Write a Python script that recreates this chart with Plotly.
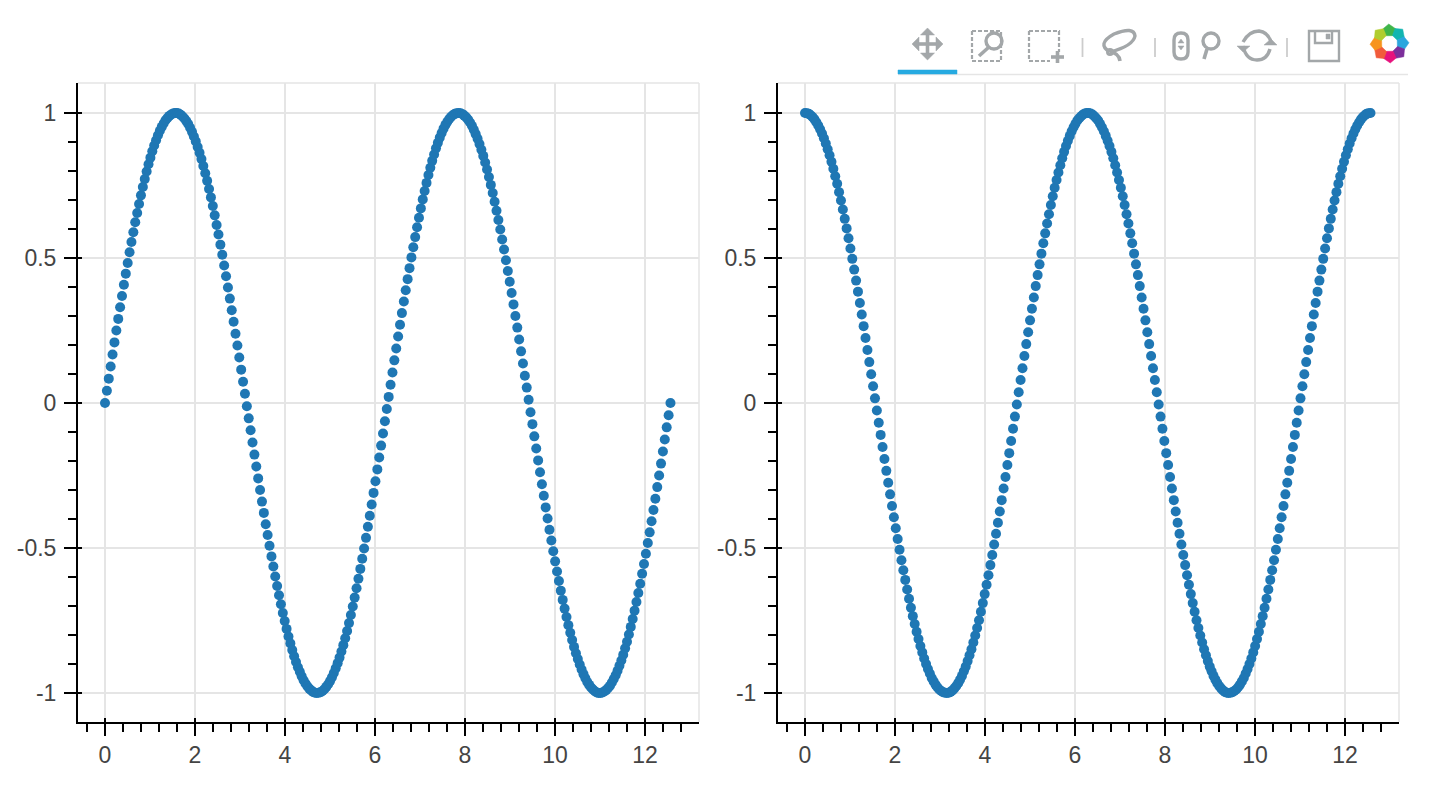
import math
import plotly.graph_objects as go

x_values = [
0,.042,.084,.126,.168,.210,.252,.294,.336,.378,
.420,.462,.504,.546,.588,.630,.672,.715,.757,.799,
.841,.883,.925,.967,1.009,1.051,1.093,1.135,1.177,1.219,
1.261,1.303,1.345,1.387,1.429,1.471,1.513,1.555,1.597,1.639,
1.681,1.723,1.765,1.807,1.849,1.891,1.933,1.975,2.017,2.059,
2.101,2.143,2.185,2.228,2.270,2.312,2.354,2.396,2.438,2.480,
2.522,2.564,2.606,2.648,2.690,2.732,2.774,2.816,2.858,2.900,
2.942,2.984,3.026,3.068,3.110,3.152,3.194,3.236,3.278,3.320,
3.362,3.404,3.446,3.488,3.530,3.572,3.614,3.656,3.699,3.741,
3.783,3.825,3.867,3.909,3.951,3.993,4.035,4.077,4.119,4.161,
4.203,4.245,4.287,4.329,4.371,4.413,4.455,4.497,4.539,4.581,
4.623,4.665,4.707,4.749,4.791,4.833,4.875,4.917,4.959,5.001,
5.043,5.085,5.127,5.170,5.212,5.254,5.296,5.338,5.380,5.422,
5.464,5.506,5.548,5.590,5.632,5.674,5.716,5.758,5.800,5.842,
5.884,5.926,5.968,6.010,6.052,6.094,6.136,6.178,6.220,6.262,
6.304,6.346,6.388,6.430,6.472,6.514,6.556,6.598,6.641,6.683,
6.725,6.767,6.809,6.851,6.893,6.935,6.977,7.019,7.061,7.103,
7.145,7.187,7.229,7.271,7.313,7.355,7.397,7.439,7.481,7.523,
7.565,7.607,7.649,7.691,7.733,7.775,7.817,7.859,7.901,7.943,
7.985,8.027,8.069,8.112,8.154,8.196,8.238,8.280,8.322,8.364,
8.406,8.448,8.490,8.532,8.574,8.616,8.658,8.700,8.742,8.784,
8.826,8.868,8.910,8.952,8.994,9.036,9.078,9.120,9.162,9.204,
9.246,9.288,9.330,9.372,9.414,9.456,9.498,9.540,9.583,9.625,
9.667,9.709,9.751,9.793,9.835,9.877,9.919,9.961,10.003,10.045,
10.087,10.129,10.171,10.213,10.255,10.297,10.339,10.381,10.423,10.465,
10.507,10.549,10.591,10.633,10.675,10.717,10.759,10.801,10.843,10.885,
10.927,10.969,11.011,11.054,11.096,11.138,11.180,11.222,11.264,11.306,
11.348,11.390,11.432,11.474,11.516,11.558,11.600,11.642,11.684,11.726,
11.768,11.810,11.852,11.894,11.936,11.978,12.020,12.062,12.104,12.146,
12.188,12.230,12.272,12.314,12.356,12.398,12.440,12.482,12.525,12.566,
]

left_values = [
0,.042,.084,.126,.167,.209,.250,.290,.330,.369,.408,.446,.483,.520,.555,.589,.623,.655,.686,.716,.745,.772,.798,.823,.846,.868,.888,.906,.923,.939,.952,.964,.975,.983,.990,.995,.998,1.000,
1.000,.998,.994,.988,.981,.972,.962,.949,.935,.919,.902,.883,.863,.841,.817,.792,.766,.738,.709,.679,.647,.614,.581,.546,.511,.474,.437,.398,.360,.320,.280,.239,.198,.157,.115,.073,.032,
-.011,-.053,-.094,-.136,-.178,-.219,-.260,-.300,-.340,-.379,-.418,-.455,-.492,-.529,-.564,-.598,-.631,-.663,-.694,-.724,-.752,-.779,-.805,-.829,-.852,-.873,-.893,-.911,-.927,-.942,-.956,-.967,-.977,-.985,-.991,-.996,-.999,-1.000,
-.999,-.997,-.993,-.987,-.979,-.970,-.959,-.946,-.931,-.915,-.897,-.878,-.857,-.835,-.811,-.786,-.759,-.731,-.702,-.671,-.639,-.606,-.572,-.537,-.502,-.465,-.427,-.389,-.350,-.310,-.270,-.229,-.188,-.147,-.105,-.063,-.021,
.021,.063,.105,.147,.188,.229,.270,.310,.350,.389,.427,.465,.502,.537,.572,.606,.639,.671,.702,.731,.759,.786,.811,.835,.857,.878,.897,.915,.931,.946,.959,.970,.979,.987,.993,.997,.999,
1.000,.999,.996,.991,.985,.977,.967,.956,.942,.927,.911,.893,.873,.852,.829,.805,.779,.752,.724,.694,.663,.631,.598,.564,.529,.492,.455,.418,.379,.340,.300,.260,.219,.178,.136,.094,.053,.011,
-.032,-.073,-.115,-.157,-.198,-.239,-.280,-.320,-.360,-.398,-.437,-.474,-.511,-.546,-.581,-.614,-.647,-.679,-.709,-.738,-.766,-.792,-.817,-.841,-.863,-.883,-.902,-.919,-.935,-.949,-.962,-.972,-.981,-.988,-.994,-.998,-1.000,
-1.000,-.998,-.995,-.990,-.983,-.975,-.964,-.952,-.939,-.923,-.906,-.888,-.868,-.846,-.823,-.798,-.772,-.745,-.716,-.686,-.655,-.623,-.589,-.555,-.520,-.483,-.446,-.408,-.369,-.330,-.290,-.250,-.209,-.167,-.126,-.084,-.042,0,
]

right_values = [
1.000,.999,.997,.992,.986,.978,.968,.957,.944,.929,.913,.895,.875,.854,.832,.808,.782,.756,.727,.698,.667,.635,.602,.568,.533,.497,.460,.422,.384,.345,.305,.265,.224,.183,.141,.099,.058,.016,
-.026,-.068,-.110,-.152,-.193,-.234,-.275,-.315,-.355,-.394,-.432,-.469,-.506,-.542,-.577,-.610,-.643,-.675,-.706,-.735,-.762,-.789,-.814,-.838,-.860,-.881,-.900,-.917,-.933,-.948,-.960,-.971,-.980,-.988,-.993,-.997,-.999,
-1.000,-.999,-.996,-.991,-.984,-.976,-.966,-.954,-.941,-.925,-.909,-.890,-.870,-.849,-.826,-.802,-.776,-.749,-.720,-.690,-.659,-.627,-.594,-.559,-.524,-.488,-.451,-.413,-.374,-.335,-.295,-.255,-.214,-.173,-.131,-.089,-.047,-.005,
.037,.079,.120,.162,.203,.244,.285,.325,.364,.403,.441,.478,.515,.551,.585,.619,.651,.683,.713,.742,.769,.795,.820,.844,.866,.886,.904,.921,.937,.951,.963,.974,.982,.989,.995,.998,1.000,
1.000,.998,.995,.989,.982,.974,.963,.951,.937,.921,.904,.886,.866,.844,.820,.795,.769,.742,.713,.683,.651,.619,.585,.551,.515,.478,.441,.403,.364,.325,.285,.244,.203,.162,.120,.079,.037,
-.005,-.047,-.089,-.131,-.173,-.214,-.255,-.295,-.335,-.374,-.413,-.451,-.488,-.524,-.559,-.594,-.627,-.659,-.690,-.720,-.749,-.776,-.802,-.826,-.849,-.870,-.890,-.909,-.925,-.941,-.954,-.966,-.976,-.984,-.991,-.996,-.999,-1.000,
-.999,-.997,-.993,-.988,-.980,-.971,-.960,-.948,-.933,-.917,-.900,-.881,-.860,-.838,-.814,-.789,-.762,-.735,-.706,-.675,-.643,-.610,-.577,-.542,-.506,-.469,-.432,-.394,-.355,-.315,-.275,-.234,-.193,-.152,-.110,-.068,-.026,
.016,.058,.099,.141,.183,.224,.265,.305,.345,.384,.422,.460,.497,.533,.568,.602,.635,.667,.698,.727,.756,.782,.808,.832,.854,.875,.895,.913,.929,.944,.957,.968,.978,.986,.992,.997,.999,1.000,
]

y_tick_values = [-1, -0.5, 0, 0.5, 1]
y_tick_labels = ["-1", "-0.5", "0", "0.5", "1"]
y_minor_ticks = [-0.9, -0.8, -0.7, -0.6, -0.4, -0.3, -0.2, -0.1, 0.1, 0.2, 0.3, 0.4, 0.6, 0.7, 0.8, 0.9]
x_tick_values = [0, 2, 4, 6, 8, 10, 12]
x_tick_labels = ["0", "2", "4", "6", "8", "10", "12"]
x_minor_ticks = [-0.4, 0.4, 0.8, 1.2, 1.6, 2.4, 2.8, 3.2, 3.6, 4.4, 4.8, 5.2, 5.6, 6.4, 6.8, 7.2, 7.6,
                 8.4, 8.8, 9.2, 9.6, 10.4, 10.8, 11.2, 11.6, 12.4, 12.8]

W, H = 1436, 788
X_RANGE = [-0.6056, 13.2]
Y_RANGE = [-1.1, 1.1034]
BLUE = "#1f77b4"
GRID = "#e5e5e5"
ICON = "#a3a7a9"
FONT = "Liberation Sans"


def px(x): return x / W
def py(y): return 1 - y / H


def path(points, close=False):
    parts = []
    for i, (a, b) in enumerate(points):
        parts.append(("M" if i == 0 else "L") + f"{px(a):.5f},{py(b):.5f}")
    return " ".join(parts) + (" Z" if close else "")


shapes = []


def line_shape(points, color=ICON, width=2.4, dash=None, fill=None, close=False):
    s = dict(type="path", xref="paper", yref="paper", path=path(points, close),
             line=dict(color=color, width=width), layer="above")
    if dash:
        s["line"]["dash"] = dash
    if fill:
        s["fillcolor"] = fill
    shapes.append(s)


def circle(cx, cy, rx, ry=None, color=ICON, width=3.4):
    ry = rx if ry is None else ry
    shapes.append(dict(type="circle", xref="paper", yref="paper",
                       x0=px(cx - rx), x1=px(cx + rx), y0=py(cy + ry), y1=py(cy - ry),
                       line=dict(color=color, width=width), layer="above"))


def poly(points, color):
    shapes.append(dict(type="path", xref="paper", yref="paper", path=path(points, True),
                       fillcolor=color, line=dict(color=color, width=0.5), layer="above"))


def curve(d, width=3.4):
    shapes.append(dict(type="path", xref="paper", yref="paper", layer="above",
                       line=dict(color=ICON, width=width), path=d))


def P(a, b):
    return f"{px(a):.5f},{py(b):.5f}"


# toolbar underline and active marker
line_shape([(898, 74.5), (1408, 74.5)], "#e5e5e5", 1.5)
poly([(898, 70), (957, 70), (957, 74), (898, 74)], "#26aae1")
# separators
for sx in (1082.5, 1155, 1287):
    line_shape([(sx, 38), (sx, 57)], "#cccccc", 1.8)
# pan
line_shape([(916, 44), (939, 44)], ICON, 3.6)
line_shape([(927.5, 32), (927.5, 56)], ICON, 3.6)
poly([(912, 44), (919, 37), (919, 51)], ICON)
poly([(943, 44), (936, 37), (936, 51)], ICON)
poly([(927.5, 28), (920.5, 35), (934.5, 35)], ICON)
poly([(927.5, 60), (920.5, 53), (934.5, 53)], ICON)
# box zoom
line_shape([(972, 31), (1001, 31), (1001, 61), (972, 61)], ICON, 2.2, dash="4px,2px", close=True)
circle(994, 41, 8)
line_shape([(989, 47), (979, 56)], ICON, 3.6)
# box select
line_shape([(1029, 31), (1059, 31), (1059, 52)], ICON, 2.2, dash="4px,2px")
line_shape([(1029, 31), (1029, 61), (1050, 61)], ICON, 2.2, dash="4px,2px")
line_shape([(1051, 57), (1064, 57)], ICON, 3.6)
line_shape([(1057.5, 51), (1057.5, 63)], ICON, 3.6)
# lasso
curve(f"M{P(1110, 52)} Q{P(1096, 44)} {P(1114, 34)} Q{P(1134, 26)} {P(1135, 36)} Q{P(1133, 46)} {P(1110, 52)}", 3.4)
curve(f"M{P(1110, 52)} Q{P(1119, 53)} {P(1120, 61)}", 3.6)
circle(1110, 52, 2.5, width=3)
# wheel zoom
curve(f"M{P(1174, 40)} Q{P(1174, 33)} {P(1181, 33)} Q{P(1188, 33)} {P(1188, 40)} L{P(1188, 52)} "
      f"Q{P(1188, 59)} {P(1181, 59)} Q{P(1174, 59)} {P(1174, 52)} Z", 3.4)
poly([(1181, 39), (1178, 43), (1184, 43)], ICON)
poly([(1181, 50), (1178, 46), (1184, 46)], ICON)
circle(1211, 41, 8)
line_shape([(1207, 49), (1204, 59)], ICON, 3.6)
# reset
curve(f"M{P(1243, 42)} Q{P(1249, 31)} {P(1259, 31)} Q{P(1268, 32)} {P(1271, 42)}")
curve(f"M{P(1243, 46)} Q{P(1246, 60)} {P(1257, 60)} Q{P(1267, 60)} {P(1270, 49)}")
poly([(1237, 46), (1250, 46), (1243, 52)], ICON)
poly([(1277, 45), (1264, 45), (1271, 39)], ICON)
# save
line_shape([(1309, 31), (1339, 31), (1339, 61), (1309, 61)], ICON, 2.4, close=True)
line_shape([(1315, 31), (1315, 43), (1332, 43), (1332, 31)], ICON, 2.4)
poly([(1326, 34), (1330, 34), (1330, 39), (1326, 39)], ICON)
# logo
LOGO = ["#3fb54a", "#12b5b0", "#2ba6de", "#7c2f9b", "#e6127d", "#f15b3b", "#f7941d", "#b0cd2f"]
cx, cy = 1389.5, 43.5
for i, col in enumerate(LOGO):
    a = math.radians(-90 + 45 * i)
    d = math.radians(45)
    pts = [(cx + 8.5 * math.cos(a - d * .55), cy + 8.5 * math.sin(a - d * .55)),
           (cx + 16 * math.cos(a - d * .55), cy + 16 * math.sin(a - d * .55)),
           (cx + 19.5 * math.cos(a - d * .05), cy + 19.5 * math.sin(a - d * .05)),
           (cx + 16 * math.cos(a + d * .5), cy + 16 * math.sin(a + d * .5)),
           (cx + 8.5 * math.cos(a + d * .5), cy + 8.5 * math.sin(a + d * .5))]
    poly(pts, col)

# light frame on the top and right of each plot
for dom_x, dom_y_ref in (("x domain", "y domain"), ("x2 domain", "y2 domain")):
    shapes.append(dict(type="line", xref=dom_x, yref=dom_y_ref, x0=0, x1=1, y0=1, y1=1,
                       line=dict(color=GRID, width=1.5), layer="below"))
    shapes.append(dict(type="line", xref=dom_x, yref=dom_y_ref, x0=1, x1=1, y0=0, y1=1,
                       line=dict(color=GRID, width=1.5), layer="below"))

dom_left = [px(77.75), px(699)]
dom_right = [px(777.75), px(1399)]
dom_y = [py(722), py(83)]
tick_font = dict(family=FONT, size=23, color="#444444")


def x_axis(domain, anchor):
    return dict(domain=domain, anchor=anchor, range=X_RANGE, showgrid=True, gridcolor=GRID, gridwidth=1.5,
                zeroline=False, showline=True, linecolor="black", linewidth=1.5,
                ticks="outside", ticklen=12, tickwidth=1.5, tickcolor="black",
                tickvals=x_tick_values, ticktext=x_tick_labels, tickangle=0, tickfont=tick_font,
                minor=dict(ticks="outside", ticklen=8, tickwidth=1.5, tickcolor="black",
                           tickvals=x_minor_ticks, showgrid=False))


def y_axis(domain, anchor):
    return dict(domain=domain, anchor=anchor, range=Y_RANGE, showgrid=True, gridcolor=GRID, gridwidth=1.5,
                zeroline=False, showline=True, linecolor="black", linewidth=1.5,
                ticks="outside", ticklen=12, tickwidth=1.5, tickcolor="black", ticklabelstandoff=3,
                tickvals=y_tick_values, ticktext=y_tick_labels, tickfont=tick_font,
                minor=dict(ticks="outside", ticklen=8, tickwidth=1.5, tickcolor="black",
                           tickvals=y_minor_ticks, showgrid=False))


def x_inner(domain, anchor, over):
    return dict(domain=domain, anchor=anchor, overlaying=over, range=X_RANGE, showgrid=False, zeroline=False,
                showline=False, ticks="inside", ticklen=4, tickwidth=1.5, tickcolor="black",
                tickvals=x_tick_values, showticklabels=False)


def y_inner(domain, anchor, over):
    return dict(domain=domain, anchor=anchor, overlaying=over, range=Y_RANGE, showgrid=False, zeroline=False,
                showline=False, ticks="inside", ticklen=4, tickwidth=1.5, tickcolor="black",
                tickvals=y_tick_values, showticklabels=False)


marker = dict(color=BLUE, size=10, line=dict(width=0))
fig = go.Figure()
fig.add_trace(go.Scatter(x=x_values, y=left_values, mode="markers", marker=marker, xaxis="x", yaxis="y", showlegend=False))
fig.add_trace(go.Scatter(x=x_values, y=right_values, mode="markers", marker=marker, xaxis="x2", yaxis="y2", showlegend=False))
fig.add_trace(go.Scatter(x=[], y=[], mode="markers", xaxis="x3", yaxis="y3", showlegend=False))
fig.add_trace(go.Scatter(x=[], y=[], mode="markers", xaxis="x4", yaxis="y4", showlegend=False))

fig.update_layout(
    width=W, height=H, margin=dict(l=0, r=0, t=0, b=0), autosize=False,
    paper_bgcolor="white", plot_bgcolor="white", showlegend=False,
    xaxis=x_axis(dom_left, "y"), yaxis=y_axis(dom_y, "x"),
    xaxis2=x_axis(dom_right, "y2"), yaxis2=y_axis(dom_y, "x2"),
    xaxis3=x_inner(dom_left, "y3", "x"), yaxis3=y_inner(dom_y, "x3", "y"),
    xaxis4=x_inner(dom_right, "y4", "x2"), yaxis4=y_inner(dom_y, "x4", "y2"),
    shapes=shapes,
)

fig.write_html("out.html", config=dict(displayModeBar=False),
               post_script="document.body.style.margin='0';document.body.style.overflow='hidden';")
